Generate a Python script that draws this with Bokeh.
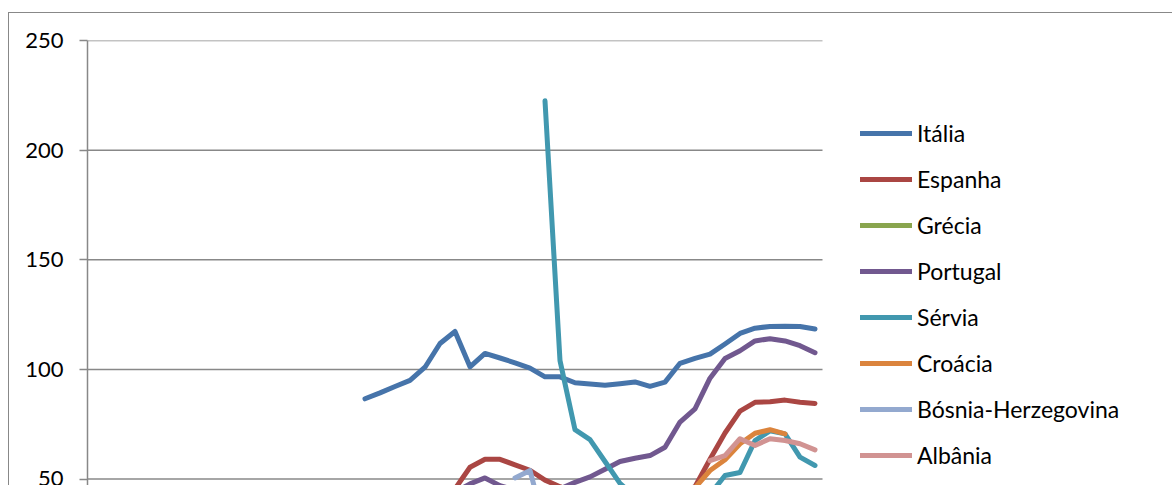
import math
from bokeh.plotting import figure
from bokeh.models import Range1d, FixedTicker, Legend, LegendItem
from bokeh.embed import file_html
from bokeh.resources import INLINE

NaN = float("nan")

years = list(range(1961, 2010))  # 49 categories (axis hidden in the reference crop)

italia = [NaN] * 18 + [86.6, 89.3, 92.2, 95.0, 101.0, 111.8, 117.3, 101.2, 107.3, 105.2,
                       103.0, 100.6, 96.6, 96.6, 93.9, 93.3, 92.8, 93.5, 94.3, 92.3,
                       94.2, 102.8, 105.0, 107.0, 111.6, 116.4, 118.8, 119.6, 119.7, 119.6,
                       118.4]
espanha = [NaN] * 18 + [40.0, 41.0, 41.5, 42.5, 43.5, 44.5, 45.5, 55.4, 59.0, 59.0,
                        56.5, 54.0, 49.5, 46.5, 44.0, 43.0, 42.0, 41.0, 41.0, 41.5,
                        42.0, 44.0, 46.5, 59.0, 71.0, 81.0, 85.0, 85.3, 86.0, 85.0,
                        84.5]
grecia = [NaN] * 18 + [30.0, 31.0, 32.5, 33.0, 34.5, 36.0, 37.0, 38.5, 39.0, 40.0,
                       40.5, 41.0, 41.5, 41.0, 40.5, 40.0, 40.0, 40.5, 41.0, 41.0,
                       41.5, 42.0, 42.5, 43.0, 43.5, 44.0, 44.5, 45.0, 45.0, 44.5,
                       44.0]
portugal = [NaN] * 18 + [35.0, 36.0, 37.0, 38.5, 40.0, 42.0, 44.0, 47.8, 50.5, 47.0,
                         45.0, 44.0, 43.5, 45.5, 48.5, 51.0, 54.5, 58.0, 59.5, 60.7,
                         64.5, 76.0, 82.0, 96.0, 105.0, 108.5, 113.0, 114.0, 113.0, 110.8,
                         107.6]
servia = [NaN] * 30 + [222.5, 104.0, 72.5, 68.0, 58.0, 48.0, 42.0, 38.0, 36.0, 37.0,
                       40.0, 43.0, 51.6, 53.0, 67.5, 72.0, 70.6, 60.0, 56.2]
croacia = [NaN] * 38 + [42.0, 43.0, 46.0, 53.9, 58.8, 66.1, 70.9, 72.5, 70.6, NaN, NaN]
bosnia = [NaN] * 28 + [50.5, 53.9, 28.0, 27.0, 30.0, 32.0, 33.0, 35.0, 36.0, 37.0,
                       38.0, 39.0, 40.0, 40.5, 41.0, 41.5, 42.0, 42.0, 42.5, 42.5,
                       43.0]
albania = [NaN] * 41 + [58.4, 60.7, 68.4, 65.3, 68.4, 67.6, 66.1, 63.3]

series_names = ["Itália", "Espanha", "Grécia", "Portugal", "Sérvia", "Croácia",
                "Bósnia-Herzegovina", "Albânia"]
series_values = [italia, espanha, grecia, portugal, servia, croacia, bosnia, albania]
series_colors = ["#4674AA", "#AA4643", "#89A54E", "#71588F", "#4198AF", "#DB843D",
                 "#93A9CF", "#D19392"]
y_ticks = [0, 50, 100, 150, 200, 250]

FONT = "Lato"
GRID = "#888888"

# frame spans to the right edge; the plot area (gridlines) covers the 49 categories,
# the rest of the frame holds the legend
FRAME_W = 1086
PX_PER_CAT = 15.0
x0 = years[0] - 0.5
p = figure(width=1164, height=473, output_backend="svg", toolbar_location=None,
           x_range=Range1d(x0, x0 + FRAME_W / PX_PER_CAT),
           y_range=Range1d(46.6, 250),
           min_border_left=78, min_border_right=0, min_border_top=27,
           min_border_bottom=0, background_fill_color="white",
           border_fill_color="white")
p.styles = {"margin-top": "12px", "margin-left": "8px",
            "border-top": "1px solid #888888", "border-left": "1px solid #888888"}
p.outline_line_color = None

p.xaxis.visible = False
p.xgrid.grid_line_color = None
p.ygrid.grid_line_color = None
# horizontal gridlines across the plot area only
p.segment(x0=[years[0] - 0.5] * len(y_ticks), x1=[years[-1] + 0.5] * len(y_ticks),
          y0=y_ticks, y1=y_ticks, line_color=GRID, line_width=1.5)

p.yaxis.ticker = FixedTicker(ticks=y_ticks)
p.yaxis.minor_tick_line_color = None
p.yaxis.axis_line_color = GRID
p.yaxis.axis_line_width = 1.5
p.yaxis.major_tick_line_color = GRID
p.yaxis.major_tick_line_width = 1.5
p.yaxis.major_tick_out = 8
p.yaxis.major_tick_in = 0
p.yaxis.major_label_standoff = 16
p.yaxis.major_label_text_font = FONT
p.yaxis.major_label_text_font_size = "22px"
p.yaxis.major_label_text_color = "black"

items = []
for name, vals, col in zip(series_names, series_values, series_colors):
    r = p.line(years, vals, line_color=col, line_width=5,
               line_join="round", line_cap="round")
    items.append(LegendItem(label=name, renderers=[r]))

legend = Legend(items=items, location=(773, 17), orientation="vertical",
                label_text_font=FONT, label_text_font_size="23px",
                label_text_color="black", glyph_width=52, glyph_height=20,
                label_height=20, label_standoff=5, spacing=18, padding=0,
                margin=0, border_line_color=None, background_fill_alpha=0)
p.add_layout(legend, "center")

open("out.html", "w").write(file_html(p, INLINE))
